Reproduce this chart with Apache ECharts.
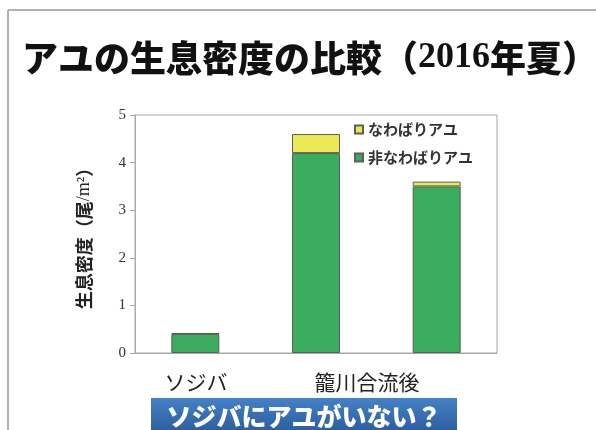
<!DOCTYPE html>
<html>
<head>
<meta charset="utf-8">
<script src="https://cdn.jsdelivr.net/npm/echarts@6/dist/echarts.min.js"></script>
<style>
  html, body { margin: 0; padding: 0; background: #fff; }
  #chart { width: 596px; height: 430px; }
</style>
</head>
<body>
<div id="chart"></div>
<script>
// データ
const categories = ['ソジバ', '籠川合流後', '']
const siteLabels = ['ソジバ', '籠川合流後']
const nonTerritorial = [0.4, 4.2, 3.5]   // 非なわばりアユ
const territorial = [0.02, 0.4, 0.1]     // なわばりアユ
const yTicks = [0, 1, 2, 3, 4, 5]

const GREEN = '#3aac5d'
const YELLOW = '#ece957'
const serif = '"Liberation Serif", "DejaVu Serif", serif'
const jp = '"Noto Sans CJK JP", sans-serif'

const chart = echarts.init(document.getElementById('chart'))

const option = {
  animation: false,
  backgroundColor: '#fff',
  grid: {
    left: 135, right: 99, top: 115, bottom: 77,
    show: true, borderColor: '#a8a8a8', borderWidth: 1
  },
  legend: {
    orient: 'vertical',
    left: 349, top: 117,
    itemWidth: 8, itemHeight: 8, itemGap: 13,
    icon: 'rect',
    textStyle: { fontFamily: jp, fontWeight: 'bold', fontSize: 15, color: '#333' },
    data: ['なわばりアユ', '非なわばりアユ']
  },
  xAxis: {
    type: 'category',
    data: categories,
    axisLine: { lineStyle: { color: '#a8a8a8' } },
    axisTick: { show: false },
    axisLabel: { show: false }
  },
  yAxis: {
    type: 'value',
    min: yTicks[0], max: yTicks[yTicks.length - 1], interval: 1,
    splitLine: { show: false },
    axisLine: { show: true, lineStyle: { color: '#a8a8a8' } },
    axisTick: { show: true, length: 5, lineStyle: { color: '#a8a8a8' } },
    axisLabel: { fontFamily: serif, fontSize: 15, color: '#333', margin: 9 },
    name: '{b|生息密度（尾}{s|/m²}{b|）}',
    nameLocation: 'middle',
    nameGap: 42,
    nameTextStyle: {
      rich: {
        b: { fontFamily: jp, fontWeight: 'bold', fontSize: 18, color: '#222' },
        s: { fontFamily: serif, fontSize: 18, color: '#222' }
      }
    }
  },
  series: [
    {
      name: '非なわばりアユ', type: 'bar', stack: 'a', data: nonTerritorial,
      barWidth: 48,
      itemStyle: { color: GREEN, borderColor: '#5f5f55', borderWidth: 1 }
    },
    {
      name: 'なわばりアユ', type: 'bar', stack: 'a', data: territorial,
      barWidth: 48,
      itemStyle: { color: YELLOW, borderColor: '#5f5f55', borderWidth: 1 }
    }
  ],
  graphic: [
    // スライド枠
    { type: 'line', shape: { x1: 8, y1: 10, x2: 596, y2: 10 }, style: { stroke: '#999', lineWidth: 1.5 } },
    { type: 'line', shape: { x1: 8, y1: 10, x2: 8, y2: 430 }, style: { stroke: '#999', lineWidth: 1.5 } },
    {
      type: 'text', x: 310, y: 58,
      style: {
        text: '{j|アユの生息密度の比較（}{n|2016}{j|年夏）}',
        align: 'center', verticalAlign: 'middle',
        rich: {
          j: { fontFamily: jp, fontWeight: 900, fontSize: 36, fill: '#111' },
          n: { fontFamily: serif, fontWeight: 'bold', fontSize: 36, fill: '#111' }
        }
      }
    },
    {
      type: 'text', x: 196, y: 382, style: {
        text: siteLabels[0], fontFamily: jp, fontSize: 21, fill: '#222',
        align: 'center', verticalAlign: 'middle'
      }
    },
    {
      type: 'text', x: 367, y: 382, style: {
        text: siteLabels[1], fontFamily: jp, fontSize: 21, fill: '#222',
        align: 'center', verticalAlign: 'middle'
      }
    },
    {
      type: 'rect', shape: { x: 151, y: 398, width: 306, height: 34 },
      style: {
        fill: new echarts.graphic.LinearGradient(0, 0, 0, 1, [
          { offset: 0, color: '#4481c6' },
          { offset: 1, color: '#2c5d9e' }
        ])
      }
    },
    {
      type: 'text', x: 304, y: 416, style: {
        text: 'ソジバにアユがいない？', fontFamily: jp, fontWeight: 900, fontSize: 25,
        fill: '#fff', align: 'center', verticalAlign: 'middle'
      }
    }
  ]
}

chart.setOption(option)
</script>
</body>
</html>
